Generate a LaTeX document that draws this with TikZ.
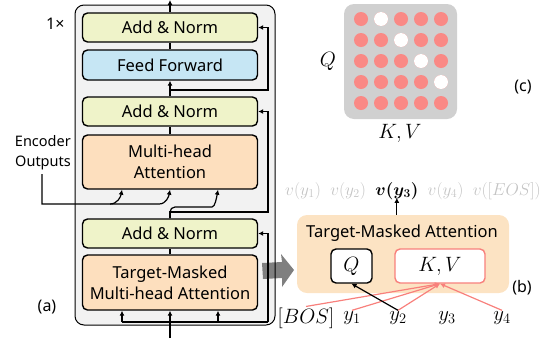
\documentclass[tikz,border=0pt]{standalone}
\usepackage{fontspec}
\setmainfont{Noto Sans}
\usepackage{amsmath,bm}
\usetikzlibrary{arrows.meta,calc}
\definecolor{outerfill}{HTML}{F2F2F2}
\definecolor{normfill}{HTML}{EFF3C9}
\definecolor{fffill}{HTML}{C6E6F4}
\definecolor{attfill}{HTML}{FDDFBE}
\definecolor{pbfill}{HTML}{FCE3C3}
\definecolor{salmon}{HTML}{F8807C}
\definecolor{dotred}{HTML}{FA8985}
\definecolor{matgray}{HTML}{D0D0D0}
\definecolor{ghost}{HTML}{C4C4C4}
\definecolor{bigarrow}{HTML}{7F7F7F}
\tikzset{
  blk/.style={draw=black, line width=1.4pt, rounded corners=5pt, minimum width=175pt,
    inner sep=0pt, align=center, font=\fontsize{16.5}{21}\selectfont},
  conn/.style={line width=1.2pt},
  arr/.style={conn, -{Latex[length=5pt,width=5pt]}},
  sarr/.style={line width=1.2pt, draw=salmon, -{Latex[length=5pt,width=5pt]}},
  lbl/.style={font=\fontsize{16}{20}\selectfont},
  mth/.style={font=\fontsize{20}{22}\selectfont, inner sep=1pt},
  vth/.style={font=\fontsize{18.5}{22}\selectfont, inner sep=0pt, anchor=west},
}
\begin{document}
\begin{tikzpicture}[x=1pt,y=-1pt]
\useasboundingbox (0,0) rectangle (553,338);
% panel (a) frame
\path[fill=outerfill, rounded corners=9pt] (75,5) rectangle (275,325);
\fill[bigarrow] (262,263) -- (282,262) -- (281,254) -- (294,270) -- (282,287) -- (282,278) -- (263,279) -- cycle;
\draw[line width=1pt, rounded corners=9pt] (75,5) rectangle (275,325);
% blocks
\node[blk, fill=normfill, minimum height=29pt] (an1) at (170,27.5) {Add \& Norm};
\node[blk, fill=fffill, minimum height=30pt] (ff) at (170,65) {Feed Forward};
\node[blk, fill=normfill, minimum height=29pt] (an2) at (170,111.5) {Add \& Norm};
\node[blk, fill=attfill, minimum height=54pt] (mha) at (170,162) {Multi-head\\Attention};
\node[blk, fill=normfill, minimum height=29pt] (an3) at (170,233.5) {Add \& Norm};
\node[blk, fill=attfill, minimum height=55pt] (tma) at (170,282.5) {Target-Masked\\Multi-head Attention};
\node[lbl, anchor=east] (rep) at (68,24) {1×};
\node[lbl] (la) at (47,307) {(a)};
\node[font=\fontsize{14.5}{20}\selectfont, align=right, anchor=east, inner sep=0pt] (enc) at (71,153) {Encoder\\Outputs};
% coordinates
\coordinate (in) at (170,338);
\coordinate (bl) at (122,322);
\coordinate (br) at (218,322);
\coordinate (r3) at (268,322);
\coordinate (s2) at (170,212);
\coordinate (s1) at (170,90);
\coordinate (out) at (170,0);
\coordinate (e0) at (42,174);
\coordinate (ml) at ($(mha.south)+(-48,0)$);
\coordinate (mr) at ($(mha.south)+(48,0)$);
% connectors
\draw[arr] (in) -- (tma.south);
\draw[conn] (bl) -- (r3);
\draw[arr] (bl) -- (bl |- tma.south);
\draw[arr] (br) -- (br |- tma.south);
\draw[arr] (r3) |- (an3.east);
\draw[conn] (tma.north) -- (an3.south);
\draw[arr] (an3.north) -- (s2) -- (268,212) |- (an2.east);
\draw[arr, rounded corners=5pt] (an3.north) -- (170,207) -- (207,207) to[out=0,in=-100] (mr);
\draw[arr] (e0) -- (42,204) -- (110,204) to[out=0,in=-100] (ml);
\draw[arr] (110,204) -- (159,204) to[out=0,in=-100] (mha.south);
\draw[conn] (mha.north) -- (an2.south);
\draw[arr] (an2.north) -- (ff.south);
\draw[arr] (s1) -- (268,90) |- (an1.east);
\draw[conn] (ff.north) -- (an1.south);
\draw[arr] (an1.north) -- (out);
% panel (c)
\node[fill=matgray, rounded corners=10pt, minimum width=113pt, minimum height=115pt] (mat) at (400.5,61.5) {};
\foreach \r in {1,...,5}{\foreach \c in {1,...,5}{\fill[dotred] (341+20*\c,-2+21*\r) circle (7pt);}}
\foreach \c/\r in {2/1,3/2,4/3,5/4}{\fill[white] (341+20*\c,-2+21*\r) circle (7pt);}
\node[mth] (ql) at (328,61) {$Q$};
\node[mth] (kvl) at (400,133) {$K,V$};
\node[lbl] (lc) at (523,87) {(c)};
% panel (b)
\node[fill=pbfill, rounded corners=10pt, minimum width=212pt, minimum height=78pt] (pb) at (403,254) {};
\node[font=\fontsize{16.5}{20}\selectfont] (pbt) at (402,233) {Target-Masked Attention};
\node[draw=black, line width=1.4pt, fill=white, rounded corners=5pt, minimum width=41pt, minimum height=34pt, mth] (q) at (351.5,266) {$Q$};
\node[draw=salmon, line width=1.4pt, fill=white, rounded corners=5pt, minimum width=90pt, minimum height=34pt, mth] (kv) at (440,266) {$K,V$};
\node[lbl] (lb) at (522,288) {(b)};
\node[vth, text=ghost] (v1) at (285,191) {$v(y_1)$};
\node[vth, text=ghost] (v2) at ([xshift=9pt]v1.east) {$v(y_2)$};
\node[vth] (v3) at ([xshift=9pt]v2.east) {$\bm{v(y_3)}$};
\node[vth, text=ghost] (v4) at ([xshift=9pt]v3.east) {$v(y_4)$};
\node[vth, text=ghost] (v5) at ([xshift=9pt]v4.east) {$v([EOS])$};
\draw[arr, line width=1pt] (v3.south |- pb.north) -- ([yshift=2pt]v3.south);
\node[mth] (bos) at (306,318) {$[BOS]$};
\node[mth] (t1) at (352,318) {$y_1$};
\node[mth] (t2) at (398,318) {$y_2$};
\node[mth] (t3) at (447,318) {$y_3$};
\node[mth] (t4) at (502,318) {$y_4$};
\draw[sarr] (bos.north) -- (kv.south);
\draw[sarr] (t1.north) -- (kv.south);
\draw[sarr] (t2.north) -- (kv.south);
\draw[sarr] (t4.north) -- (kv.south);
\draw[arr] (t2.north) -- (q.south);
\end{tikzpicture}
\end{document}
